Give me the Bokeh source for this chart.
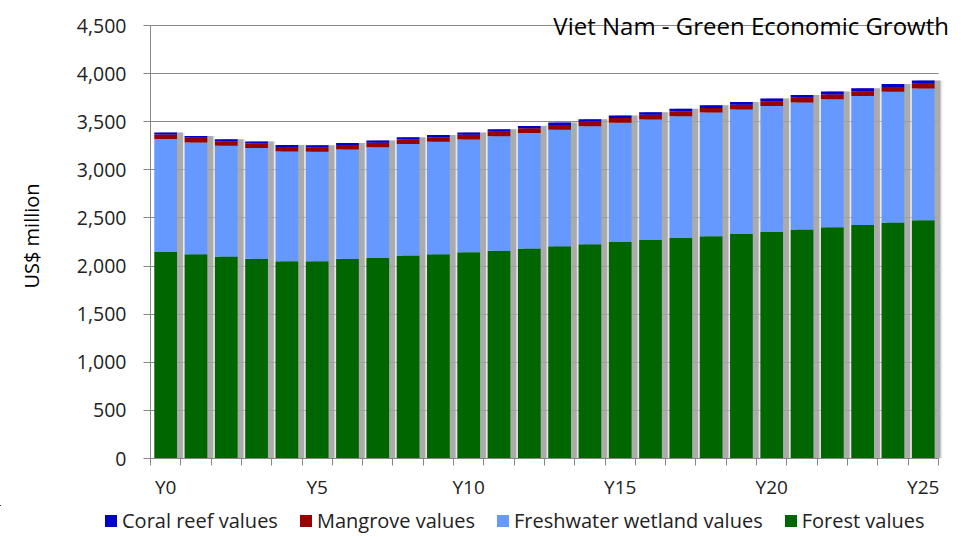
from bokeh.plotting import figure
from bokeh.layouts import column
from bokeh.models import (ColumnDataSource, FixedTicker, NumeralTickFormatter, Legend,
                          LegendItem, Label, Range1d)
from bokeh.transform import dodge
from bokeh.embed import file_html
from bokeh.resources import INLINE

years = list(range(26))
year_labels = ["Y%d" % y for y in years]
shown_labels = ["Y0", "Y5", "Y10", "Y15", "Y20", "Y25"]

forest = [2147, 2123, 2099, 2075, 2050, 2050, 2075, 2085, 2110, 2123, 2144, 2158, 2182,
          2206, 2227, 2251, 2270, 2293, 2310, 2334, 2355, 2379, 2404, 2428, 2452, 2477]
freshwater = [1173, 1162, 1151, 1151, 1141, 1137, 1136, 1150, 1158, 1168, 1172, 1191, 1202,
              1212, 1225, 1238, 1253, 1264, 1285, 1294, 1308, 1320, 1330, 1339, 1360, 1369]
mangrove = [48, 48, 47, 47, 47, 47, 47, 47, 48, 48, 48, 48, 48,
            48, 48, 49, 49, 49, 49, 49, 49, 50, 50, 50, 50, 50]
coral = [20, 20, 21, 21, 21, 22, 22, 23, 23, 24, 24, 25, 25,
         26, 26, 27, 27, 28, 28, 29, 29, 30, 30, 31, 31, 32]

series_names = ["Coral reef values", "Mangrove values", "Freshwater wetland values", "Forest values"]
colors = {"forest": "#006600", "freshwater": "#6699FF", "mangrove": "#990000", "coral": "#0000CC"}

total = [f + w + m + c for f, w, m, c in zip(forest, freshwater, mangrove, coral)]

src = ColumnDataSource(dict(x=years, forest=forest, freshwater=freshwater,
                            mangrove=mangrove, coral=coral, total=total))

FONT = "Open Sans"

p = figure(frame_width=800, frame_height=445, output_backend="svg", toolbar_location=None,
           x_range=Range1d(-0.5, 25.9), y_range=Range1d(0, 4625),
           min_border_left=150, min_border_right=25, min_border_top=13, min_border_bottom=47)
p.outline_line_color = None
p.background_fill_color = "white"
p.border_fill_color = "white"

# shadows
p.vbar(x=dodge("x", 0.2, range=p.x_range), top="total", width=0.86, source=src,
       fill_color="#d8d8d8", fill_alpha=0.6, line_color=None)
p.vbar(x=dodge("x", 0.19, range=p.x_range), top="total", width=0.76, source=src,
       fill_color="#979797", fill_alpha=0.75, line_color=None)

stack_keys = ["forest", "freshwater", "mangrove", "coral"]
rs = p.vbar_stack(stack_keys, x="x", width=0.75, source=src,
                  color=[colors[k] for k in stack_keys], line_color=None)

# grid
p.xgrid.grid_line_color = None
p.ygrid.ticker = FixedTicker(ticks=list(range(0, 4501, 500)))
p.ygrid.grid_line_color = "#8a8a8a"
p.ygrid.grid_line_width = 1
try:
    p.ygrid.cross_bounds = (-0.5, 25.5)
except Exception:
    pass

# y axis
yax = p.yaxis[0]
yax.ticker = FixedTicker(ticks=list(range(0, 4501, 500)))
yax.bounds = (0, 4500)
yax.formatter = NumeralTickFormatter(format="0,0")
yax.axis_label = "US$ million"
yax.axis_label_text_font = FONT
yax.axis_label_text_font_style = "normal"
yax.axis_label_text_font_size = "20px"
yax.axis_label_text_color = "#000000"
yax.axis_label_standoff = 29
yax.major_label_text_font = FONT
yax.major_label_text_font_size = "19.5px"
yax.major_label_text_color = "#222222"
yax.major_tick_out = 7
yax.major_tick_in = 0
yax.minor_tick_line_color = None
yax.major_label_standoff = 17
yax.axis_line_color = "#868686"
yax.major_tick_line_color = "#868686"

# x axis
xax = p.xaxis[0]
xax.bounds = (-0.5, 25.5)
xax.ticker = FixedTicker(ticks=[0, 5, 10, 15, 20, 25],
                         minor_ticks=[k - 0.5 for k in range(27)])
xax.major_label_overrides = {y: lbl for y, lbl in zip(years, year_labels) if lbl in shown_labels}
xax.major_label_text_font = FONT
xax.major_label_text_font_size = "19px"
xax.major_label_text_color = "#222222"
xax.major_tick_line_color = None
xax.major_tick_out = 0
xax.major_tick_in = 0
xax.minor_tick_out = 7
xax.minor_tick_in = 0
xax.minor_tick_line_color = "#868686"
xax.major_label_standoff = 8
xax.axis_line_color = "#868686"

# title inside plot
title = Label(x=25.85, y=4503, text="Viet Nam - Green Economic Growth", text_align="right",
              text_baseline="alphabetic", text_font=FONT, text_font_size="24px",
              text_color="#000000")
p.add_layout(title)

# legend strip (separate figure so the legend is not clipped by the chart frame)
pl = figure(width=975, height=32, output_backend="svg", toolbar_location=None,
            x_range=Range1d(1000, 1001), y_range=Range1d(-30000, -20000),
            x_axis_location=None, y_axis_location=None,
            min_border_left=0, min_border_right=0, min_border_top=0, min_border_bottom=0)
pl.outline_line_color = None
pl.grid.visible = False
legend_x0 = 103
try:
    pl.frame_align = False
    p.frame_align = False
except Exception:
    legend_x0 = 103 - 150
order = ["coral", "mangrove", "freshwater", "forest"]
items = []
for name, key in zip(series_names, order):
    # same series as the chart; the ranges of this strip keep the bars themselves out of view
    r = pl.vbar(x="x", top=key, width=0.75, source=src,
                fill_color=colors[key], line_color=None)
    items.append(LegendItem(label=name, renderers=[r]))
legend = Legend(items=items, orientation="horizontal", location=(legend_x0, 3),
                label_text_font=FONT, label_text_font_size="20px", label_text_color="#222222",
                glyph_width=15, glyph_height=15, label_standoff=4, spacing=20,
                padding=0, margin=0, border_line_color=None, background_fill_alpha=0)
pl.add_layout(legend, "center")

layout = column(p, pl, spacing=0)
open("out.html", "w").write(file_html(layout, INLINE))
